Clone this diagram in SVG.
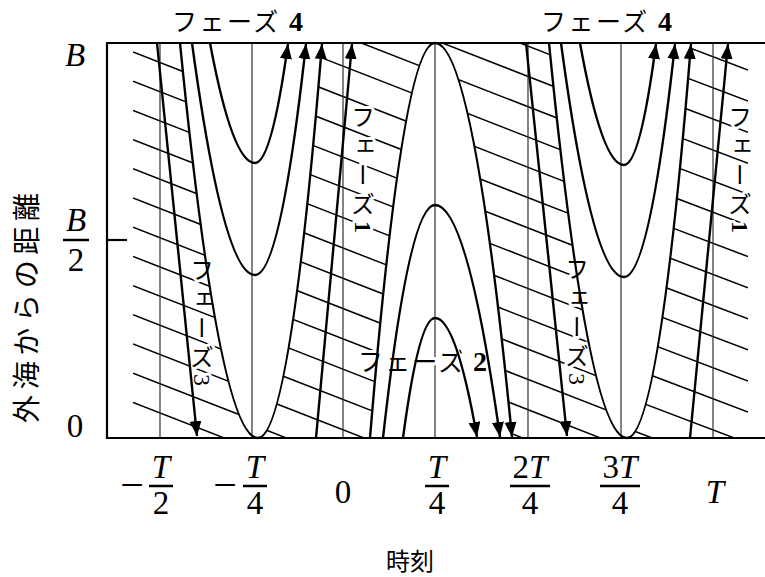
<svg xmlns="http://www.w3.org/2000/svg" width="765" height="577" viewBox="0 0 765 577">
<style>
.frame{stroke:#000;stroke-width:2.2;fill:none}
.thin{stroke:#333;stroke-width:1.2;fill:none}
.hatch{stroke:#000;stroke-width:1.5;fill:none}
.curve{stroke:#000;stroke-width:2.4;fill:none}
.jp{font-family:"Noto Sans CJK JP","Noto Sans CJK SC",sans-serif;font-size:25px;fill:#000}
.halo{paint-order:stroke;stroke:#fff;stroke-width:6px;stroke-linejoin:round}
.vert{writing-mode:vertical-rl;letter-spacing:5px;font-size:24px}
.num{font-family:"Liberation Serif",serif;font-weight:bold;font-size:28px}
.m{font-family:"Liberation Serif",serif;font-size:33px;fill:#000;text-anchor:middle}
.mi{font-style:italic}
.minus{font-size:42px}
.bar{stroke:#000;stroke-width:2.5}
</style>
<defs>
<marker id="ah" markerUnits="userSpaceOnUse" markerWidth="16" markerHeight="13" refX="15" refY="6" orient="auto">
<path d="M0,0 L15,6 L0,12 Z" fill="#000"/>
</marker>
<clipPath id="cA"><path d="M133,43 L180,43 Q219,438 258,438 L133,438 Z"/></clipPath>
<clipPath id="cB"><path d="M258,438 Q290,438 322,43 L435,43 Q402.5,43 370,438 Z"/></clipPath>
<clipPath id="cC"><path d="M435,43 L549,43 Q588,438 627,438 L512,438 Q473.5,43 435,43 Z"/></clipPath>
<clipPath id="cD"><path d="M627,438 Q659,438 691,43 L748,43 L748,438 Z"/></clipPath>
</defs>
<rect width="765" height="577" fill="#fff"/>

<g id="hatching">
<path class="hatch" clip-path="url(#cA)" d="M133,52 L262,102.3 M133,81.2 L262,131.5 M133,110.4 L262,160.7 M133,139.6 L262,189.9 M133,168.8 L262,219.1 M133,198 L262,248.3 M133,227.2 L262,277.5 M133,256.4 L262,306.7 M133,285.6 L262,335.9 M133,314.8 L262,365.1 M133,344 L262,394.3 M133,373.2 L262,423.5 M133,402.4 L262,452.7"/>
<path class="hatch" clip-path="url(#cB)" d="M255,1.55 L440,73.7 M255,31.85 L440,104 M255,62.15 L440,134.3 M255,92.45 L440,164.6 M255,122.75 L440,194.9 M255,153.05 L440,225.2 M255,183.35 L440,255.5 M255,213.65 L440,285.8 M255,243.95 L440,316.1 M255,274.25 L440,346.4 M255,304.55 L440,376.7 M255,334.85 L440,407 M255,365.15 L440,437.3 M255,395.45 L440,467.6 M255,425.75 L440,497.9"/>
<path class="hatch" clip-path="url(#cC)" d="M435,9.85 L630,85.9 M435,40.15 L630,116.2 M435,70.45 L630,146.5 M435,100.75 L630,176.8 M435,131.05 L630,207.1 M435,161.35 L630,237.4 M435,191.65 L630,267.7 M435,221.95 L630,298 M435,252.25 L630,328.3 M435,282.55 L630,358.6 M435,312.85 L630,388.9 M435,343.15 L630,419.2 M435,373.45 L630,449.5 M435,403.75 L630,479.8"/>
<path class="hatch" clip-path="url(#cD)" d="M625,23.3 L748,70 M625,54.4 L748,101.1 M625,85.5 L748,132.2 M625,116.6 L748,163.3 M625,147.7 L748,194.4 M625,178.8 L748,225.5 M625,209.9 L748,256.6 M625,241 L748,287.7 M625,272.1 L748,318.8 M625,303.2 L748,349.9 M625,334.3 L748,381 M625,365.4 L748,412.1 M625,396.5 L748,443.2 M625,427.6 L748,474.3"/>
</g>

<g id="gridlines">
<path class="thin" d="M160,43 V438 M252,43 V438 M343,43 V438 M435,43 V438 M528,43 V438 M621,43 V438 M713,43 V438"/>
</g>

<g id="phase-labels">
<text class="jp vert halo" x="363" y="105">フェーズ<tspan class="num" style="font-size:24px">1</tspan></text>
<text class="jp vert halo" x="740" y="105">フェーズ<tspan class="num" style="font-size:24px">1</tspan></text>
<text class="jp vert halo" x="202" y="258">フェーズ<tspan font-family="Liberation Serif">3</tspan></text>
<text class="jp vert halo" x="577" y="257">フェーズ<tspan font-family="Liberation Serif">3</tspan></text>
<text class="jp halo" x="358" y="371" textLength="129" lengthAdjust="spacing">フェーズ <tspan class="num">2</tspan></text>
</g>

<g id="connectors">
<path class="curve" marker-end="url(#ah)" d="M180,43 Q219,438 258,438 Q290,438 322,44"/>
<path class="curve" marker-end="url(#ah)" d="M192,43 Q223.5,275 255,275 Q280.5,275 306,44"/>
<path class="curve" marker-end="url(#ah)" d="M210,43 Q232.5,163 255,163 Q271.5,163 288,44"/>
<path class="curve" marker-end="url(#ah)" d="M549,43 Q588,438 627,438 Q659,438 691,44"/>
<path class="curve" marker-end="url(#ah)" d="M561,43 Q592.5,277 624,277 Q649.5,277 675,44"/>
<path class="curve" marker-end="url(#ah)" d="M580,43 Q602,165 624,165 Q640,165 656,44"/>
<path class="curve" marker-end="url(#ah)" d="M370,438 Q402.5,43 435,43 Q473.5,43 512,437"/>
<path class="curve" marker-end="url(#ah)" d="M383,438 Q409,205 435,205 Q467.5,205 500,437"/>
<path class="curve" marker-end="url(#ah)" d="M403,438 Q419,318 435,318 Q456,318 477,437"/>
<path class="curve" marker-end="url(#ah)" d="M157,43 L197,436"/>
<path class="curve" marker-end="url(#ah)" d="M526,43 L567,436"/>
<path class="curve" marker-end="url(#ah)" d="M316,438 L352,44"/>
<path class="curve" marker-end="url(#ah)" d="M690,438 L728,44"/>
</g>

<g id="frame">
<path class="frame" d="M765,43 H107 V438 H765"/>
<path class="frame" d="M107,240 H127"/>
</g>

<g id="top-labels">
<text class="jp" x="172" y="31" textLength="131" lengthAdjust="spacing">フェーズ <tspan class="num">4</tspan></text>
<text class="jp" x="541" y="31" textLength="131" lengthAdjust="spacing">フェーズ <tspan class="num">4</tspan></text>
</g>

<g id="y-axis">
<text class="m mi" x="75" y="66">B</text>
<text class="m mi" x="76" y="231">B</text>
<line class="bar" x1="63" y1="240" x2="89" y2="240"/>
<text class="m" x="76" y="271">2</text>
<text class="m" x="75" y="437">0</text>
<text class="jp" transform="translate(27,308) rotate(-90)" x="0" y="10" text-anchor="middle" textLength="230" lengthAdjust="spacing" style="font-size:28px">外海からの距離</text>
</g>

<g id="x-axis">
<text class="m minus" x="132" y="499">−</text>
<text class="m mi" x="161" y="478">T</text>
<line class="bar" x1="149" y1="486" x2="173" y2="486"/>
<text class="m" x="161" y="514">2</text>
<text class="m minus" x="225" y="499">−</text>
<text class="m mi" x="255" y="478">T</text>
<line class="bar" x1="243" y1="486" x2="267" y2="486"/>
<text class="m" x="255" y="514">4</text>
<text class="m" x="343" y="503">0</text>
<text class="m mi" x="437" y="478">T</text>
<line class="bar" x1="425" y1="486" x2="449" y2="486"/>
<text class="m" x="437" y="514">4</text>
<text class="m" x="530" y="478">2<tspan class="mi">T</tspan></text>
<line class="bar" x1="510" y1="486" x2="550" y2="486"/>
<text class="m" x="530" y="514">4</text>
<text class="m" x="620" y="478">3<tspan class="mi">T</tspan></text>
<line class="bar" x1="600" y1="486" x2="640" y2="486"/>
<text class="m" x="620" y="514">4</text>
<text class="m mi" x="715" y="503">T</text>
<text class="jp" x="410" y="570" text-anchor="middle" style="font-size:24px">時刻</text>
</g>
</svg>
